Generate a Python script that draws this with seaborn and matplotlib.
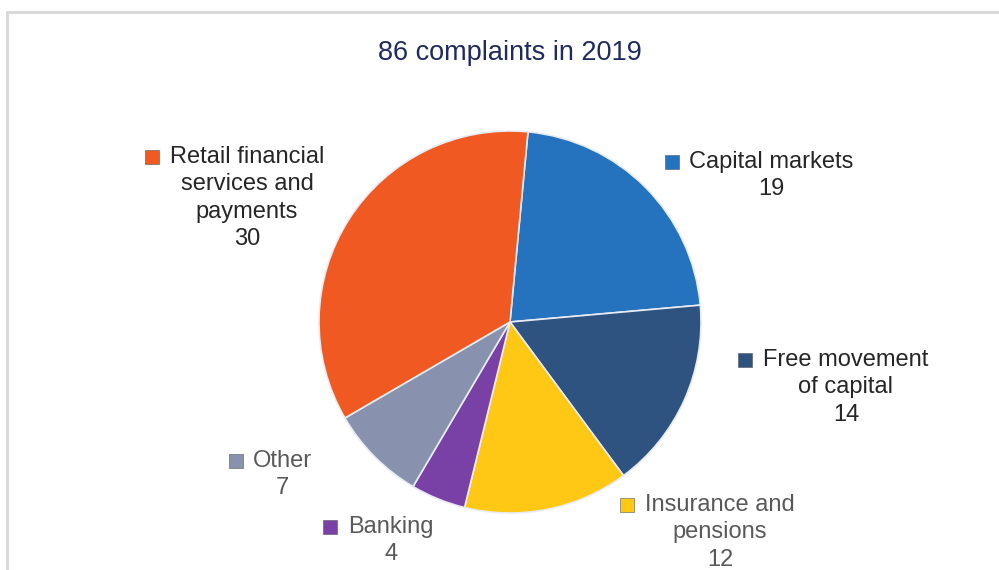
import matplotlib
matplotlib.use("Agg")
import matplotlib.pyplot as plt
import seaborn as sns

# Datos del grafico (sentido horario desde arriba)
categorias = ["Capital markets", "Free movement\nof capital", "Insurance and\npensions",
              "Banking", "Other", "Retail financial\nservices and\npayments"]
valores = [19, 14, 12, 4, 7, 30]
cores = ["#2573BF", "#2F5381", "#FFC815", "#7940A6", "#8892AE", "#F05A22"]
cor_texto = ["#262626", "#262626", "#595959", "#595959", "#595959", "#262626"]
titulo = "86 complaints in 2019"

sns.set_theme(style="white")
plt.rcParams["font.family"] = ["Liberation Sans", "DejaVu Sans"]

fig = plt.figure(figsize=(9.99, 5.70), dpi=100)
ax = fig.add_axes([0, 0, 1, 1])

# Moldura do grafico
ax.plot([7, 7, 999], [0, 558, 558], color="#D9D9D9", lw=2.2, solid_capstyle="butt")

# Pizza
centro = (510, 570 - 322)
wedges, _ = ax.pie(valores, colors=cores, startangle=84.6, counterclock=False,
                   center=centro, radius=191, frame=True,
                   wedgeprops=dict(edgecolor="#E8ECF2", linewidth=1.2))
ax.set_xlim(0, 999)
ax.set_ylim(0, 570)
ax.set_aspect("equal")
ax.axis("off")

# Rotulos (posicao do quadrado e centro da primeira linha em pixels)
pos_quadrado = [(672, 162), (745, 360), (627, 505), (330, 527), (236, 461), (152, 157)]
pos_texto = [(771, 162), (846, 360), (720, 505), (391, 527), (282, 461), (247, 157)]

for cat, val, cor, ct, (qx, qy), (tx, ty) in zip(categorias, valores, cores, cor_texto,
                                                 pos_quadrado, pos_texto):
    ax.plot(qx, 570 - qy, marker="s", ms=9.5, color=cor, mec="#555555", mew=0.4)
    ax.text(tx, 570 - ty + 11, f"{cat}\n{val}", ha="center", va="top", multialignment="center",
            fontsize=17, color=ct, linespacing=1.31)

ax.text(510, 570 - 53, titulo, ha="center", va="center", fontsize=19.5, color="#1F2A5E")

fig.savefig("out.png", dpi=100)
